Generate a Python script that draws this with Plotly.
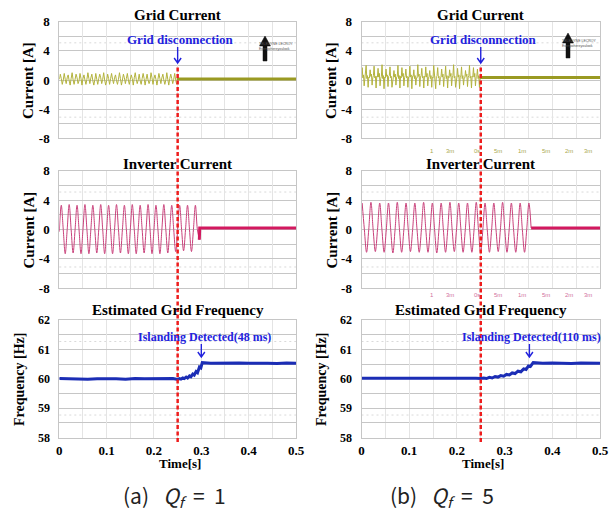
import plotly.graph_objects as go

W, H = 611, 515

# ---------------- data ----------------
# Grid current (a), sampled every 0.25/120 s from t = 0 until the disconnection
grid_a_dt = 0.25 / 120
grid_a = [
    0.1, 0.8, 0.2, -0.6, 0.0, 0.9, 0.1, -0.5, 0.3, 0.7, -0.1, -0.7,
    0.2, 1.0, 0.0, -0.6, 0.1, 0.8, 0.3, -0.5, -0.1, 0.9, 0.2, -0.7,
    0.2, 0.7, 0.0, -0.6, 0.1, 1.0, 0.2, -0.5, 0.3, 0.8, -0.1, -0.7,
    0.0, 0.9, 0.1, -0.6, 0.2, 0.8, 0.3, -0.5, 0.1, 1.0, 0.0, -0.7,
    -0.1, 0.8, 0.2, -0.6, 0.2, 0.9, 0.1, -0.5, 0.3, 0.7, -0.1, -0.6,
    0.1, 1.0, 0.2, -0.7, 0.0, 0.8, 0.3, -0.5, 0.2, 0.9, 0.0, -0.6,
    0.1, 0.7, 0.2, -0.7, 0.3, 1.0, 0.1, -0.5, 0.0, 0.8, -0.1, -0.6,
    0.2, 0.9, 0.2, -0.7, 0.1, 0.8, 0.0, -0.5, -0.1, 1.0, 0.3, -0.6,
    0.2, 0.7, 0.1, -0.7, 0.1, 0.9, 0.2, -0.5, 0.3, 0.8, 0.0, -0.6,
    0.0, 1.0, 0.1, -0.7, 0.2, 0.8, 0.2, -0.5, 0.1, 0.9, 0.0, -0.6,
]
# Grid current (b), sampled every 0.25/180 s
grid_b_dt = 0.25 / 180
grid_b = [
    0.4, 1.7, 0.3, 0.7, -0.8, 0.5, 0.5, 2.0, 0.2, 0.6, -1.0, 0.4,
    0.3, 1.4, 0.5, 0.8, -0.7, 0.3, 0.6, 1.9, 0.3, 0.5, -1.1, 0.5,
    0.4, 1.6, 0.4, 0.9, -0.8, 0.2, 0.5, 2.1, 0.2, 0.6, -1.2, 0.4,
    0.3, 1.5, 0.5, 0.7, -0.9, 0.5, 0.6, 1.8, 0.3, 0.5, -1.0, 0.3,
    0.4, 1.3, 0.4, 0.8, -0.7, 0.4, 0.5, 2.0, 0.2, 0.6, -1.1, 0.5,
    0.3, 1.7, 0.5, 0.9, -0.8, 0.3, 0.6, 1.5, 0.3, 0.5, -1.0, 0.4,
    0.4, 1.9, 0.4, 0.7, -1.2, 0.5, 0.5, 1.4, 0.2, 0.6, -0.7, 0.3,
    0.3, 2.1, 0.5, 0.8, -0.9, 0.4, 0.6, 1.6, 0.3, 0.5, -1.1, 0.5,
    0.4, 1.8, 0.4, 0.9, -0.8, 0.3, 0.5, 1.3, 0.2, 0.6, -1.0, 0.4,
    0.3, 2.0, 0.5, 0.7, -1.2, 0.5, 0.6, 1.7, 0.3, 0.5, -0.7, 0.3,
    0.4, 1.5, 0.4, 0.8, -0.9, 0.4, 0.5, 1.9, 0.2, 0.6, -1.1, 0.5,
    0.3, 1.4, 0.5, 0.9, -0.8, 0.3, 0.6, 2.1, 0.3, 0.5, -1.0, 0.4,
    0.4, 1.6, 0.4, 0.7, -1.2, 0.5, 0.5, 1.8, 0.2, 0.6, -0.7, 0.3,
    0.3, 1.3, 0.5, 0.8, -0.9, 0.4, 0.6, 2.0, 0.3, 0.5, -1.1, 0.5,
    0.4, 1.7, 0.4, 0.9, -0.8, 0.3, 0.5, 1.5, 0.2, 0.6, -1.0, 0.4,
]
grid_after_t = [0.248, 0.5]
grid_after_a = [0.15, 0.15]
grid_after_b = [0.35, 0.35]

# Inverter current, sampled at quarter periods
inv_a_t0, inv_a_dt = 0.0, 1 / 240
inv_a = [
    -0.3,
    3.3, 0.0, -3.3, 0.0, 3.4, 0.0, -3.2, 0.0, 3.3, 0.0, -3.3, 0.0,
    3.4, 0.0, -3.3, 0.0, 3.3, 0.0, -3.2, 0.0, 3.4, 0.0, -3.3, 0.0,
    3.3, 0.0, -3.3, 0.0, 3.4, 0.0, -3.2, 0.0, 3.3, 0.0, -3.3, 0.0,
    3.4, 0.0, -3.3, 0.0, 3.3, 0.0, -3.2, 0.0, 3.4, 0.0, -3.3, 0.0,
    3.3, 0.0, -3.3, 0.0, 3.4, 0.0, -3.2, 0.0, 3.3, 0.0, -3.0, 0.0,
    3.3, 0.0, -2.9, 0.0, 3.3, 0.0, -3.0, 0.0,
    3.3, 0.0, -1.4,
]
inv_a_after_t = [0.2958, 0.2966, 0.5]
inv_a_after = [-1.4, 0.2, 0.2]

inv_b_t0, inv_b_dt = 0.0014, 0.0046
inv_b = [
    3.6, 0.0, -3.1, 0.0, 3.7, 0.0, -3.0, 0.0, 3.6, 0.0, -3.1, 0.0,
    3.6, 0.0, -3.2, 0.0, 3.7, 0.0, -3.1, 0.0, 3.6, 0.0, -3.0, 0.0,
    3.6, 0.0, -3.1, 0.0, 3.7, 0.0, -3.1, 0.0, 3.6, 0.0, -3.2, 0.0,
    3.6, 0.0, -3.1, 0.0, 3.7, 0.0, -3.0, 0.0, 3.6, 0.0, -3.1, 0.0,
    3.6, 0.0, -3.1, 0.0, 3.7, 0.0, -3.2, 0.0, 3.6, 0.0, -3.1, 0.0,
    3.6, 0.0, -3.0, 0.0, 3.7, 0.0, -3.1, 0.0, 3.6, 0.0, -3.1, 0.0,
    3.6, 0.0, -3.1, 0.0, 3.6, 0.2,
]
inv_b_after_t = [0.3556, 0.5]
inv_b_after = [0.2, 0.2]

# Estimated grid frequency
freq_a_t = [0.0, 0.02, 0.04, 0.06, 0.08, 0.10, 0.12, 0.14, 0.16, 0.18, 0.20, 0.22, 0.24,
            0.25, 0.254, 0.257, 0.261, 0.264, 0.268, 0.271, 0.275, 0.278, 0.282, 0.285,
            0.289, 0.292, 0.296, 0.299, 0.302,
            0.32, 0.34, 0.36, 0.38, 0.40, 0.42, 0.44, 0.46, 0.48, 0.50]
freq_a = [60.01, 60.0, 60.01, 59.99, 60.0, 60.01, 60.0, 59.99, 60.01, 60.0, 60.01, 60.0, 60.01,
          59.98, 60.01, 59.99, 60.03, 60.01, 60.06, 60.03, 60.10, 60.07, 60.16, 60.13,
          60.25, 60.21, 60.40, 60.37, 60.55,
          60.53, 60.54, 60.53, 60.54, 60.53, 60.54, 60.53, 60.52, 60.54, 60.53]
freq_b_t = [0.0, 0.02, 0.04, 0.06, 0.08, 0.10, 0.12, 0.14, 0.16, 0.18, 0.20, 0.22, 0.24,
            0.25, 0.256, 0.262, 0.268, 0.274, 0.28, 0.286, 0.292, 0.298, 0.304, 0.31,
            0.316, 0.322, 0.328, 0.334, 0.34, 0.345, 0.35, 0.354, 0.36,
            0.38, 0.40, 0.42, 0.44, 0.46, 0.48, 0.50]
freq_b = [60.02, 60.01, 60.02, 60.02, 60.01, 60.02, 60.02, 60.01, 60.02, 60.02, 60.01, 60.02, 60.02,
          60.01, 60.03, 60.01, 60.05, 60.03, 60.08, 60.06, 60.11, 60.09, 60.15, 60.13,
          60.20, 60.18, 60.26, 60.24, 60.34, 60.32, 60.44, 60.42, 60.55,
          60.53, 60.54, 60.53, 60.52, 60.54, 60.53, 60.53]

disconnect_t = 0.25
detect_a_t = 0.30
detect_b_t = 0.352

cur_ticks = [-8, -4, 0, 4, 8]
cur_ticktext = ["-8", "-4", "0", "4", "8"]
freq_ticks = [58, 59, 60, 61, 62]
time_ticks = [0, 0.1, 0.2, 0.3, 0.4, 0.5]
time_ticktext = ["0", "0.1", "0.2", "0.3", "0.4", "0.5"]

titles = ["Grid Current", "Inverter Current", "Estimated Grid Frequency"]
NB = "&nbsp;"
captions = [f"(a){NB*3}<i>Q<sub>f</sub></i>{NB*2}={NB*2}1", f"(b){NB*3}<i>Q<sub>f</sub></i>{NB*2}={NB*2}5"]
notes_top = "Grid disconnection"
notes_freq = ["Islanding Detected(48 ms)", "Islanding Detected(110 ms)"]

# ---------------- styling ----------------
SERIF = "Liberation Serif"
GRID_C, GRID_FLAT = "#b3b33e", "#9a9a22"
INV_C, INV_FLAT = "#c8407a", "#d2195f"
FREQ_C = "#1b2db5"
BLUE = "#2222dd"
RED = "#ee1c1c"
HGRID = "#c6c6c6"
VGRID = "#e4e4e4"


def px(x):
    return x / W


def py(y):
    return 1 - y / H


col_x = [(59.3, 296.0), (361.5, 600.0)]
row_y = [(21.7, 138.3), (170.7, 288.3), (320.0, 437.7)]

fig = go.Figure()
layout = dict(
    width=W, height=H, margin=dict(l=0, r=0, t=0, b=0, pad=0, autoexpand=False),
    paper_bgcolor="white", plot_bgcolor="white", showlegend=False,
)
shapes = []
annots = []


def axname(k):
    return ("x" if k == 1 else f"x{k}", "y" if k == 1 else f"y{k}")


for c in range(2):
    for r in range(3):
        k = c * 3 + r + 1
        xr, yr = axname(k)
        xn = "xaxis" if k == 1 else f"xaxis{k}"
        yn = "yaxis" if k == 1 else f"yaxis{k}"
        xa = dict(
            domain=[px(col_x[c][0]), px(col_x[c][1])], anchor=yr,
            range=[0, 0.5], showline=True, mirror=True, linecolor=HGRID, linewidth=1,
            showgrid=True, gridcolor=VGRID, gridwidth=1, zeroline=False, ticks="",
            fixedrange=True, automargin=False,
        )
        if r < 2:
            xa.update(tickmode="linear", tick0=0, dtick=0.05, showticklabels=False)
        else:
            xa.update(tickmode="array", tickvals=time_ticks, ticktext=time_ticktext,
                      tickfont=dict(family=SERIF, size=13, color="black", weight="bold"),
                      ticklabelstandoff=1,
                      minor=dict(tickmode="linear", tick0=0, dtick=0.05, showgrid=True,
                                 gridcolor=VGRID, gridwidth=1))
        ya = dict(
            domain=[py(row_y[r][1]), py(row_y[r][0])], anchor=xr,
            showline=True, mirror=True, linecolor=HGRID, linewidth=1,
            showgrid=True, gridcolor=HGRID, gridwidth=1, zeroline=False, ticks="",
            ticklabelstandoff=6, fixedrange=True, automargin=False,
        )
        if r < 2:
            ya.update(range=[-8, 8], tickmode="array", tickvals=cur_ticks, ticktext=cur_ticktext,
                      tickfont=dict(family=SERIF, size=13, color="black", weight="bold"),
                      minor=dict(tickmode="linear", tick0=0, dtick=2, showgrid=True,
                                 gridcolor=HGRID, gridwidth=1))
            dots = [5.1, -5.1]
        else:
            ya.update(range=[58, 62], tickmode="array", tickvals=freq_ticks,
                      ticktext=[str(v) for v in freq_ticks],
                      tickfont=dict(family=SERIF, size=12, color="black", weight="bold"),
                      minor=dict(tickmode="linear", tick0=58, dtick=0.5, showgrid=True,
                                 gridcolor=HGRID, gridwidth=1))
            dots = [61.27, 58.77]
        layout[xn] = xa
        layout[yn] = ya
        for dv in dots:
            shapes.append(dict(type="line", xref=f"{xr} domain", yref=yr, x0=0, x1=1, y0=dv, y1=dv,
                               line=dict(color="#d9d9d9", width=1, dash="2px,3px"), layer="below"))
        # subplot title
        cx = (col_x[c][0] + col_x[c][1]) / 2
        ty = [15, 164, 310][r]
        annots.append(dict(text=titles[r], x=px(cx), y=py(ty), xref="paper", yref="paper",
                           showarrow=False, xanchor="center", yanchor="middle",
                           font=dict(family=SERIF, size=15, color="black", weight="bold")))
        # y-axis title
        if r < 2:
            annots.append(dict(text="Current [A]", x=px([28, 331][c]), y=py((row_y[r][0] + row_y[r][1]) / 2 + 1),
                               xref="paper", yref="paper", showarrow=False, textangle=-90,
                               xanchor="center", yanchor="middle",
                               font=dict(family=SERIF, size=15, color="black", weight="bold")))
        else:
            annots.append(dict(text="Frequency [Hz]", x=px([19, 321][c]), y=py(380),
                               xref="paper", yref="paper", showarrow=False, textangle=-90,
                               xanchor="center", yanchor="middle",
                               font=dict(family=SERIF, size=14, color="black", weight="bold")))
            annots.append(dict(text="Time[s]", x=px(cx + 2), y=py(463), xref="paper", yref="paper",
                               showarrow=False, xanchor="center", yanchor="middle",
                               font=dict(family=SERIF, size=13, color="black", weight="bold")))


def arrow(xref, xval, y_tip_px, length):
    # open "down" arrow, drawn in pixels around its tip
    return dict(type="path", xref=xref, yref="paper", xsizemode="pixel", ysizemode="pixel",
                xanchor=xval, yanchor=py(y_tip_px),
                path=f"M0,0 L0,{length} M-3.5,5 L0,0 L3.5,5",
                line=dict(color=BLUE, width=1.4), layer="above")


# ---------------- traces ----------------
cols = [
    (grid_a, grid_a_dt, grid_after_a, inv_a, inv_a_t0, inv_a_dt, inv_a_after_t, inv_a_after, freq_a_t, freq_a),
    (grid_b, grid_b_dt, grid_after_b, inv_b, inv_b_t0, inv_b_dt, inv_b_after_t, inv_b_after, freq_b_t, freq_b),
]
for c, (gvals, gdt, gafter, ivals, i0, idt, iat, iav, ft, fv) in enumerate(cols):
    x1, y1 = axname(c * 3 + 1)
    x2, y2 = axname(c * 3 + 2)
    x3, y3 = axname(c * 3 + 3)
    fig.add_trace(go.Scatter(x0=0, dx=gdt, y=gvals, mode="lines", xaxis=x1, yaxis=y1,
                             line=dict(color=GRID_C, width=1)))
    fig.add_trace(go.Scatter(x=grid_after_t, y=gafter, mode="lines", xaxis=x1, yaxis=y1,
                             line=dict(color=GRID_FLAT, width=3)))
    fig.add_trace(go.Scatter(x0=i0, dx=idt, y=ivals, mode="lines", xaxis=x2, yaxis=y2,
                             line=dict(color=INV_C, width=1, shape="spline")))
    fig.add_trace(go.Scatter(x=iat, y=iav, mode="lines", xaxis=x2, yaxis=y2,
                             line=dict(color=INV_FLAT, width=3)))
    fig.add_trace(go.Scatter(x=ft, y=fv, mode="lines", xaxis=x3, yaxis=y3,
                             line=dict(color=FREQ_C, width=3)))

    # red dashed disconnection line spanning the column
    shapes.append(dict(type="line", xref=x1, yref="paper", x0=disconnect_t, x1=disconnect_t,
                       y0=py(442), y1=py(67), line=dict(color=RED, width=2.5, dash="4px,2.5px"),
                       layer="above"))
    # notes with arrows
    cx = (col_x[c][0] + col_x[c][1]) / 2
    annots.append(dict(text=notes_top, x=px(cx + 3), y=py(39.5), xref="paper", yref="paper",
                       showarrow=False, xanchor="center", yanchor="middle",
                       font=dict(family=SERIF, size=13, color=BLUE, weight="bold")))
    shapes.append(arrow(x1, disconnect_t, 63, 16))
    det = [detect_a_t, detect_b_t][c]
    annots.append(dict(text=notes_freq[c], x=det + [0.007, 0.005][c], xref=x3, y=py(336.5), yref="paper",
                       showarrow=False, xanchor="center", yanchor="middle",
                       font=dict(family=SERIF, size=12, color=BLUE, weight="bold")))
    shapes.append(arrow(x3, det, 357, 13))
    # oscilloscope logo (top-right corner of the grid-current panel)
    rx = [295, 598][c]
    ly = [49, 46][c]
    annots.append(dict(text="TELEDYNE LECROY<br>Everywhereyoulook", x=px(rx), y=py(ly - 3),
                       xref="paper", yref="paper", showarrow=False, xanchor="right", yanchor="middle",
                       align="left", borderpad=0,
                       font=dict(family="Liberation Sans Narrow, Liberation Sans", size=3.5,
                                 color="#555555")))
    shapes.append(dict(type="path", xref="paper", yref="paper", xsizemode="pixel", ysizemode="pixel",
                       xanchor=px(rx - 30), yanchor=py(ly + 12),
                       path="M-2,0 L2,0 L2,15 L5.5,15 L0,25 L-5.5,15 L-2,15 Z",
                       fillcolor="#111111", line=dict(color="#111111", width=0.5), layer="above"))
    # caption
    annots.append(dict(text=captions[c], x=px([174, 442][c]), y=py(496), xref="paper", yref="paper",
                       showarrow=False, xanchor="center", yanchor="middle",
                       font=dict(family="Noto Sans CJK KR", size=21, color="#222222")))

# faint oscilloscope timebase marks in the right column
marks_x = [436, 456, 482, 504, 528, 552, 575, 594]
marks_txt = ["1", "3m", "0s", "5m", "1m", "5m", "2m", "3m"]
for mx, mt in zip(marks_x, marks_txt):
    annots.append(dict(text=mt, x=px(mx), y=py(146), xref="paper", yref="paper", showarrow=False,
                       font=dict(family="Liberation Sans", size=6, color="#a8a850")))
    annots.append(dict(text=mt, x=px(mx), y=py(295), xref="paper", yref="paper", showarrow=False,
                       font=dict(family="Liberation Sans", size=6, color="#d070a0")))

layout["shapes"] = shapes
layout["annotations"] = annots
fig.update_layout(**layout)
fig.write_html("out.html")
